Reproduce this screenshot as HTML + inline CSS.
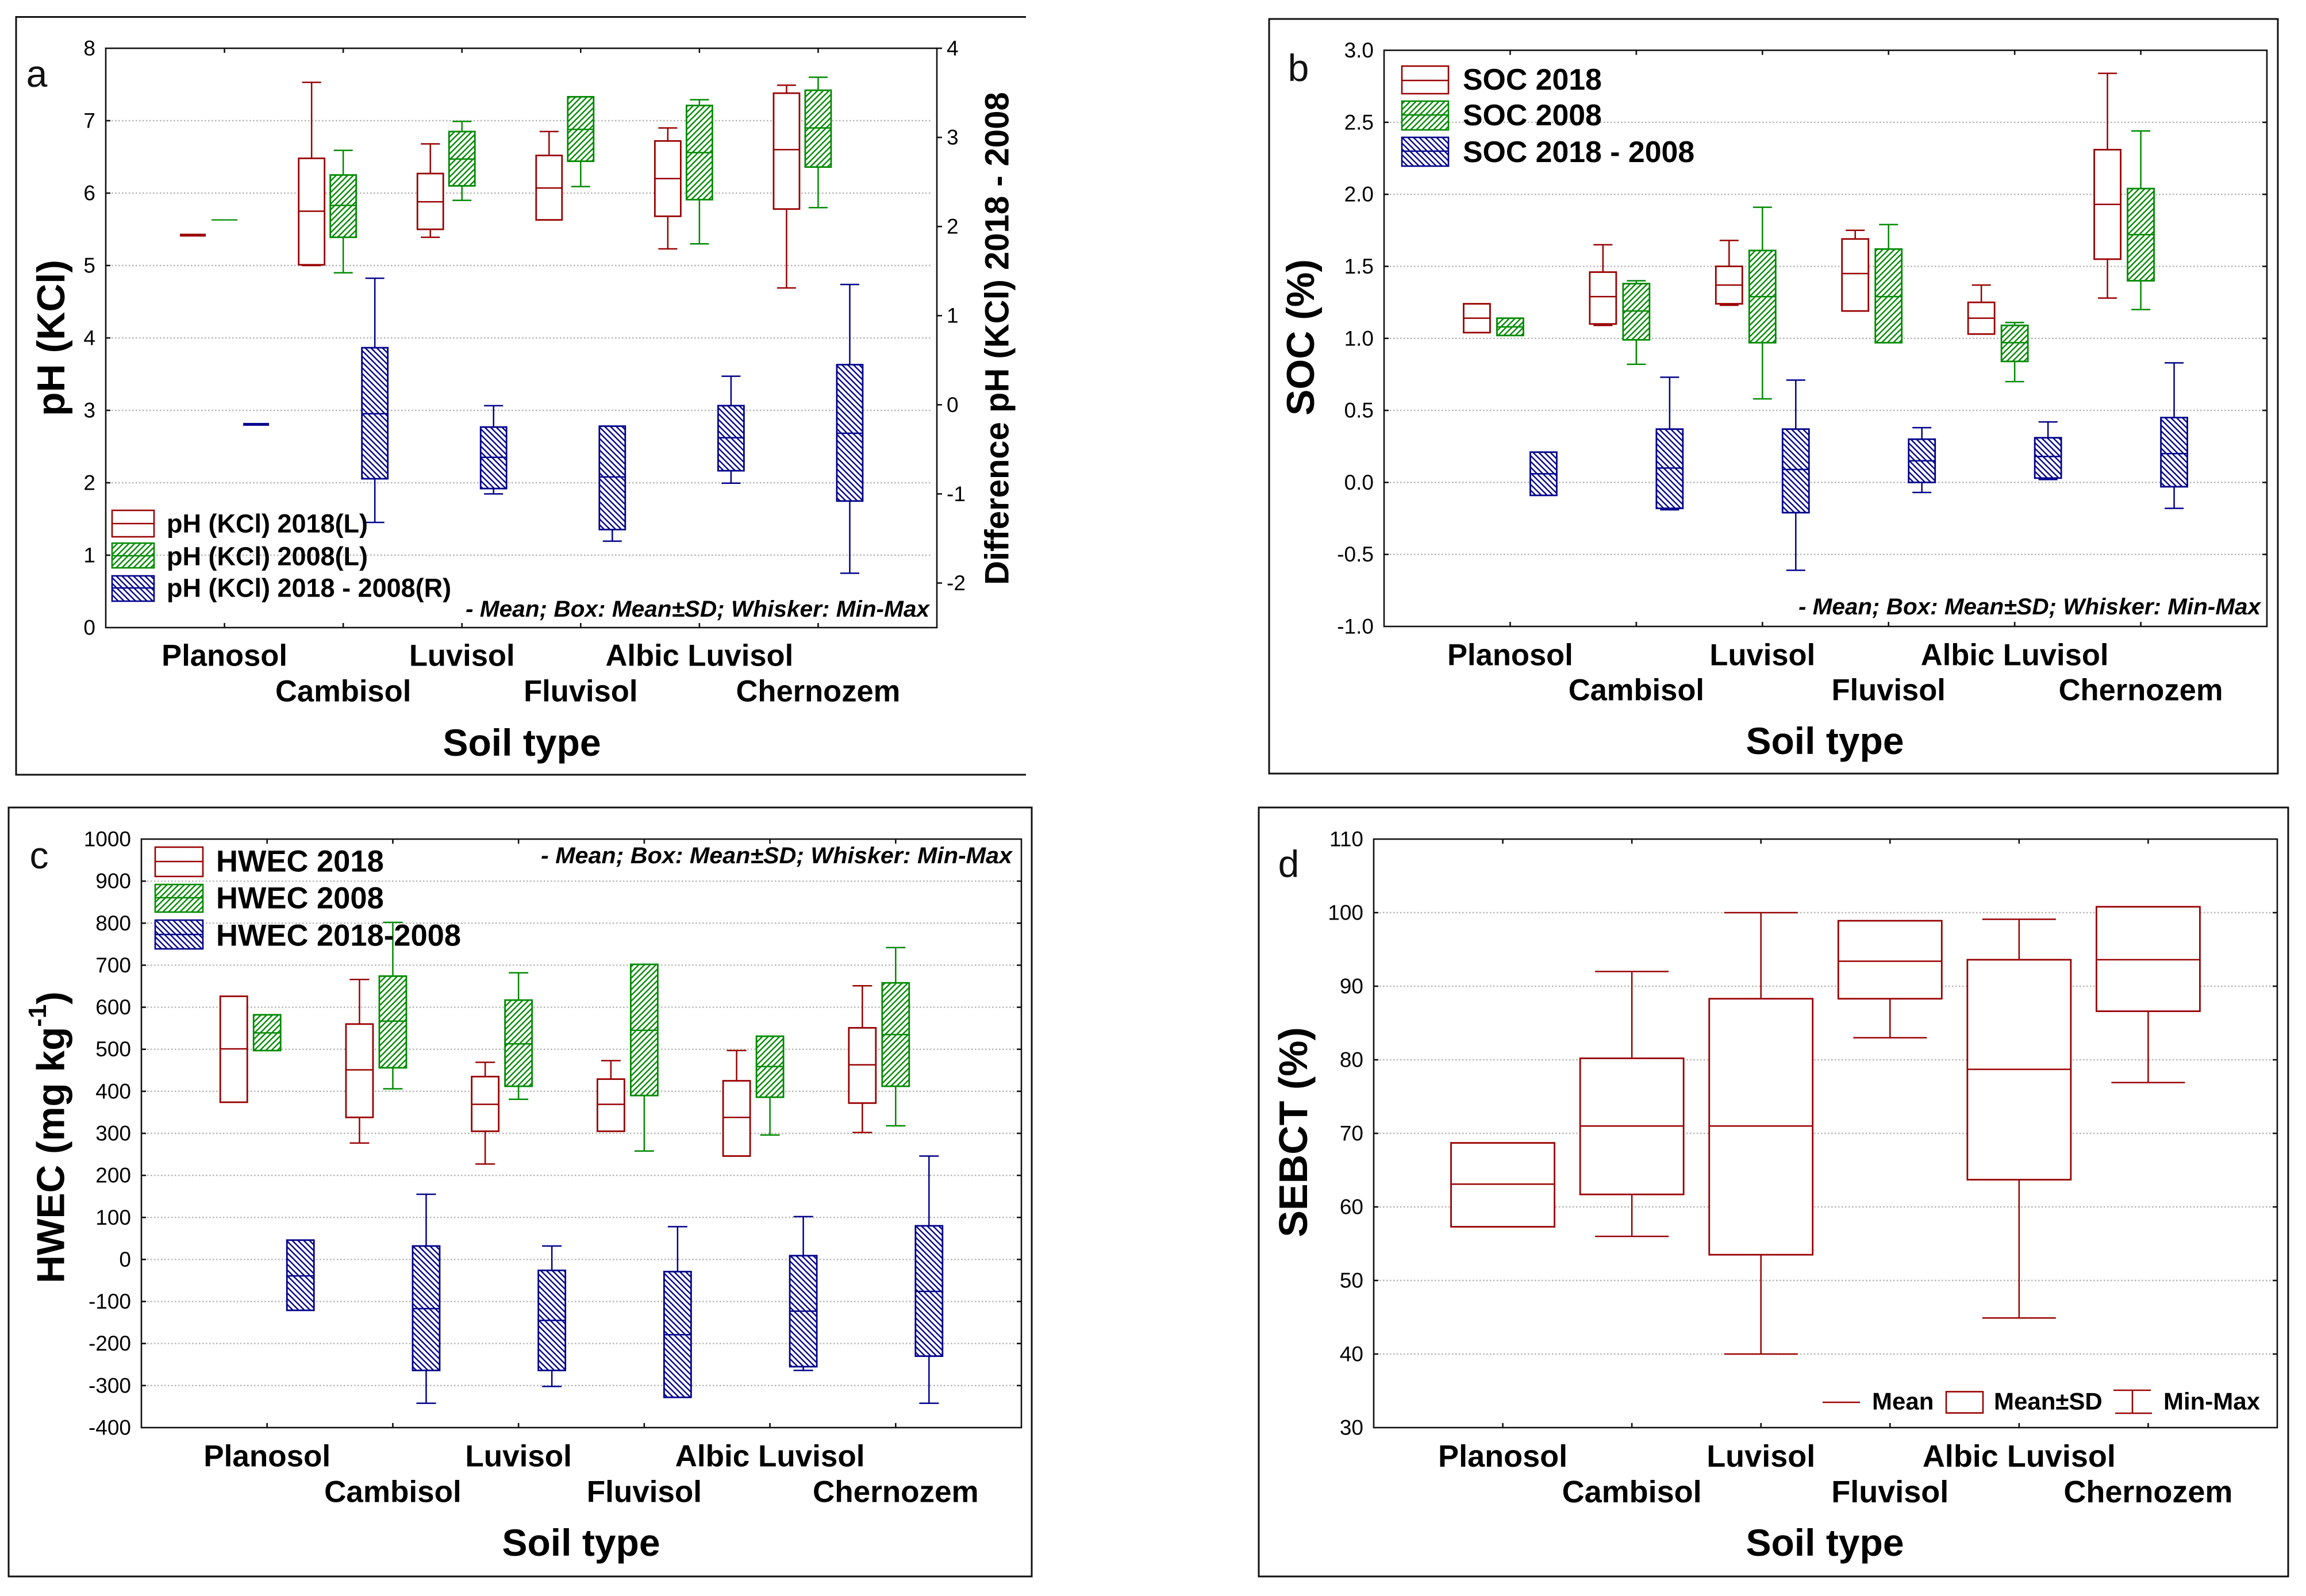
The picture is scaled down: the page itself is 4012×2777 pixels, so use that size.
<!DOCTYPE html>
<html lang="en">
<head>
<meta charset="utf-8">
<title>Soil type box plots</title>
<style>
html,body{margin:0;padding:0;background:#fff;}
svg{display:block;}
text{font-family:"Liberation Sans",sans-serif;fill:#000;}
.title{font-weight:bold;text-anchor:middle;dominant-baseline:central;}
.leg{font-weight:bold;dominant-baseline:central;}
.note{font-weight:bold;font-style:italic;font-size:40px;dominant-baseline:central;}
.letter{font-size:66px;text-anchor:middle;dominant-baseline:central;fill:#111;}
.frame{fill:none;stroke:#111;stroke-width:3;}
</style>
</head>
<body>
<svg id="figure" xmlns="http://www.w3.org/2000/svg" width="4012" height="2777" viewBox="0 0 4012 2777">
  <defs>
    <pattern id="hatch-green" patternUnits="userSpaceOnUse" width="10" height="10">
      <rect width="10" height="10" fill="#fff"/>
      <path d="M-2 2L2 -2M0 10L10 0M8 12L12 8" stroke="#008a00" stroke-width="2.4"/>
    </pattern>
    <pattern id="hatch-blue" patternUnits="userSpaceOnUse" width="10" height="10">
      <rect width="10" height="10" fill="#fff"/>
      <path d="M-2 8L2 12M0 0L10 10M8 -2L12 2" stroke="#00008b" stroke-width="2.4"/>
    </pattern>
  </defs>
  <rect width="4012" height="2777" fill="#fff"/>

  <!-- Panel frames -->
  <path class="frame" d="M1785 29.5H28V1348H1785"/>
  <rect class="frame" x="2208" y="33" width="1755" height="1313"/>
  <rect class="frame" x="15" y="1405" width="1780" height="1338"/>
  <rect class="frame" x="2190" y="1405" width="1791" height="1338"/>

  <g id="plots"></g>

  <!-- Panel a static text -->
  <text class="letter" x="64" y="128">a</text>
  <text class="title" font-size="68" transform="translate(89 588) rotate(-90)">pH (KCl)</text>
  <text class="title" font-size="58" transform="translate(1735 589) rotate(-90)">Difference pH (KCl) 2018 - 2008</text>
  <text class="title" font-size="66" x="908" y="1292">Soil type</text>
  <text class="note" x="810" y="1060" textLength="807" lengthAdjust="spacingAndGlyphs">- Mean; Box: Mean±SD; Whisker: Min-Max</text>
  <g>
    <g>
      <rect x="195" y="888" width="73" height="46" fill="#fff" stroke="#990000" stroke-width="2.6"/>
      <path d="M195 911H268" stroke="#990000" stroke-width="2.6"/>
      <text class="leg" font-size="45" x="290" y="911">pH (KCl) 2018(L)</text>
    </g>
    <g>
      <rect x="195" y="945" width="73" height="43" fill="url(#hatch-green)" stroke="#008a00" stroke-width="2.6"/>
      <path d="M195 967H268" stroke="#008a00" stroke-width="2.6"/>
      <text class="leg" font-size="45" x="290" y="968">pH (KCl) 2008(L)</text>
    </g>
    <g>
      <rect x="195" y="1002" width="73" height="44" fill="url(#hatch-blue)" stroke="#00008b" stroke-width="2.6"/>
      <path d="M195 1023H268" stroke="#00008b" stroke-width="2.6"/>
      <text class="leg" font-size="45" x="290" y="1023">pH (KCl) 2018 - 2008(R)</text>
    </g>
  </g>

  <!-- Panel b static text -->
  <text class="letter" x="2259" y="118">b</text>
  <text class="title" font-size="68" transform="translate(2263 587) rotate(-90)">SOC (%)</text>
  <text class="title" font-size="66" x="3175" y="1289">Soil type</text>
  <text class="note" x="3129" y="1056" textLength="804" lengthAdjust="spacingAndGlyphs">- Mean; Box: Mean±SD; Whisker: Min-Max</text>
  <g>
    <g>
      <rect x="2439" y="115" width="81" height="48" fill="#fff" stroke="#990000" stroke-width="2.6"/>
      <path d="M2439 140H2520" stroke="#990000" stroke-width="2.6"/>
      <text class="leg" font-size="51.8" x="2545" y="138">SOC 2018</text>
    </g>
    <g>
      <rect x="2439" y="176" width="81" height="50" fill="url(#hatch-green)" stroke="#008a00" stroke-width="2.6"/>
      <path d="M2439 200H2520" stroke="#008a00" stroke-width="2.6"/>
      <text class="leg" font-size="51.8" x="2545" y="200">SOC 2008</text>
    </g>
    <g>
      <rect x="2439" y="239" width="81" height="50" fill="url(#hatch-blue)" stroke="#00008b" stroke-width="2.6"/>
      <path d="M2439 263H2520" stroke="#00008b" stroke-width="2.6"/>
      <text class="leg" font-size="51.8" x="2545" y="264">SOC 2018 - 2008</text>
    </g>
  </g>

  <!-- Panel c static text -->
  <text class="letter" x="68" y="1488">c</text>
  <text class="title" font-size="67.5" transform="translate(89 1979) rotate(-90)">HWEC (mg kg<tspan font-size="44" dy="-24">-1</tspan><tspan dy="24">)</tspan></text>
  <text class="title" font-size="66" x="1011" y="2684">Soil type</text>
  <text class="note" x="941" y="1489" textLength="820" lengthAdjust="spacingAndGlyphs">- Mean; Box: Mean±SD; Whisker: Min-Max</text>
  <g>
    <g>
      <rect x="270" y="1474" width="83" height="51" fill="#fff" stroke="#990000" stroke-width="2.6"/>
      <path d="M270 1499H353" stroke="#990000" stroke-width="2.6"/>
      <text class="leg" font-size="52.5" x="376" y="1499">HWEC 2018</text>
    </g>
    <g>
      <rect x="270" y="1539" width="83" height="48" fill="url(#hatch-green)" stroke="#008a00" stroke-width="2.6"/>
      <path d="M270 1562H353" stroke="#008a00" stroke-width="2.6"/>
      <text class="leg" font-size="52.5" x="376" y="1563">HWEC 2008</text>
    </g>
    <g>
      <rect x="270" y="1601" width="83" height="50" fill="url(#hatch-blue)" stroke="#00008b" stroke-width="2.6"/>
      <path d="M270 1626H353" stroke="#00008b" stroke-width="2.6"/>
      <text class="leg" font-size="52.5" x="376" y="1628">HWEC 2018-2008</text>
    </g>
  </g>

  <!-- Panel d static text -->
  <text class="letter" x="2242" y="1503">d</text>
  <text class="title" font-size="70" transform="translate(2250 1970) rotate(-90)">SEBCT (%)</text>
  <text class="title" font-size="66" x="3175" y="2684">Soil type</text>
  <g>
    <g>
      <path d="M3171 2440H3236" stroke="#990000" stroke-width="2.6"/>
      <text class="leg" font-size="42" x="3257" y="2438">Mean</text>
    </g>
    <g>
      <rect x="3386" y="2421.5" width="64" height="37" fill="#fff" stroke="#990000" stroke-width="2.6"/>
      <text class="leg" font-size="42" x="3469" y="2438">Mean±SD</text>
    </g>
    <g>
      <path d="M3677 2419H3742M3710 2419V2459M3680 2459H3744" fill="none" stroke="#990000" stroke-width="2.6"/>
      <text class="leg" font-size="42" x="3764" y="2438">Min-Max</text>
    </g>
  </g>
</svg>

<script>
// Shared category labels
const categories = ['Planosol', 'Cambisol', 'Luvisol', 'Fluvisol', 'Albic Luvisol', 'Chernozem'];

// Each row is one soil type: [max, mean+SD, mean, mean-SD, min]
const phKcl2018 = [[5.42,5.42,5.42,5.42,5.42],[7.53,6.48,5.75,5.01,5.00],[6.68,6.27,5.88,5.50,5.39],[6.85,6.52,6.07,5.63,5.63],[6.90,6.72,6.20,5.68,5.23],[7.49,7.38,6.60,5.78,4.69]];
const phKcl2008 = [[5.63,5.63,5.63,5.63,5.63],[6.59,6.25,5.83,5.39,4.90],[6.99,6.85,6.47,6.10,5.90],[7.33,7.33,6.88,6.44,6.09],[7.29,7.21,6.56,5.91,5.30],[7.60,7.42,6.90,6.36,5.80]];
const phKclDiff = [[-0.22,-0.22,-0.22,-0.22,-0.22],[1.42,0.64,-0.10,-0.83,-1.32],[-0.01,-0.25,-0.59,-0.94,-1.00],[-0.24,-0.24,-0.81,-1.40,-1.53],[0.32,-0.01,-0.37,-0.74,-0.88],[1.35,0.45,-0.32,-1.08,-1.89]];
const phTicks = ['0','1','2','3','4','5','6','7','8'];
const phDiffTicks = ['-2','-1','0','1','2','3','4'];

const soc2018 = [[1.24,1.24,1.14,1.04,1.04],[1.65,1.46,1.29,1.10,1.09],[1.68,1.50,1.37,1.24,1.23],[1.75,1.69,1.45,1.19,1.19],[1.37,1.25,1.14,1.03,1.03],[2.84,2.31,1.93,1.55,1.28]];
const soc2008 = [[1.14,1.14,1.08,1.02,1.02],[1.40,1.38,1.19,0.99,0.82],[1.91,1.61,1.29,0.97,0.58],[1.79,1.62,1.29,0.97,0.97],[1.11,1.09,0.97,0.84,0.70],[2.44,2.04,1.72,1.40,1.20]];
const socDiff = [[0.21,0.21,0.06,-0.09,-0.09],[0.73,0.37,0.10,-0.18,-0.19],[0.71,0.37,0.09,-0.21,-0.61],[0.38,0.30,0.15,0.00,-0.07],[0.42,0.31,0.18,0.03,0.02],[0.83,0.45,0.20,-0.03,-0.18]];
const socTicks = ['-1.0','-0.5','0.0','0.5','1.0','1.5','2.0','2.5','3.0'];

const hwec2018 = [[626,626,501,374,374],[666,560,451,338,277],[469,435,369,305,227],[473,429,369,305,305],[497,425,338,246,246],[651,551,463,372,302]];
const hwec2008 = [[582,582,539,497,497],[802,674,567,456,406],[682,617,513,412,381],[702,702,545,390,258],[531,531,459,386,296],[742,658,535,412,318]];
const hwecDiff = [[46,46,-39,-121,-121],[155,32,-117,-264,-342],[32,-26,-145,-264,-302],[78,-29,-179,-328,-328],[102,9,-123,-255,-264],[246,80,-76,-230,-342]];
const hwecTicks = ['-400','-300','-200','-100','0','100','200','300','400','500','600','700','800','900','1000'];

const sebct = [[68.7,68.7,63.1,57.3,57.3],[92,80.2,71,61.7,56],[100,88.3,71,53.5,40],[98.9,98.9,93.4,88.3,83],[99.1,93.6,78.7,63.7,44.9],[100.8,100.8,93.6,86.6,76.9]];
const sebctTicks = ['30','40','50','60','70','80','90','100','110'];

const SVG_NS = 'http://www.w3.org/2000/svg';
const root = document.getElementById('plots');
const AXIS = '#111', GRID = '#b5b5b5';
const COLORS = {
  red: { stroke: '#990000', fill: '#fff', flat: 5 },
  green: { stroke: '#008a00', fill: 'url(#hatch-green)', flat: 2.2 },
  blue: { stroke: '#00008b', fill: 'url(#hatch-blue)', flat: 5 }
};

function make(parent, tag, attrs, content) {
  const node = document.createElementNS(SVG_NS, tag);
  for (const key in attrs) node.setAttribute(key, attrs[key]);
  if (content !== undefined) node.textContent = content;
  parent.appendChild(node);
  return node;
}

function linearScale(d0, d1, r0, r1) {
  return function (v) { return r0 + (v - d0) * (r1 - r0) / (d1 - d0); };
}

function drawPanel(cfg) {
  const g = make(root, 'g', {});
  
  
  const p = cfg.plot;
  const xStep = (p.right - p.left) / (categories.length + 1);
  const xPos = function (i) { return p.left + xStep * (i + 1); };
  const yLeft = linearScale(cfg.leftMin, cfg.leftMax, p.bottom, p.top);
  const yRight = cfg.rightTicks ? linearScale(cfg.rightMin, cfg.rightMax, p.bottom, p.top) : null;

  cfg.leftTicks.forEach(function (label) {
    const v = Number(label);
    const y = yLeft(v);
    if (v > cfg.leftMin && v < cfg.leftMax) {
      const grid = make(g, 'line', { x1: p.left + 10, x2: p.right - 10, y1: y, y2: y, stroke: GRID, 'stroke-width': 2.4, 'stroke-dasharray': '2.5 3.5' });
      
      
      const tickL = make(g, 'line', { x1: p.left, x2: p.left + 8, y1: y, y2: y, stroke: AXIS, 'stroke-width': 2.6 });
      
      
      if (!cfg.rightTicks) {
        const tickR = make(g, 'line', { x1: p.right - 8, x2: p.right, y1: y, y2: y, stroke: AXIS, 'stroke-width': 2.6 });
        
        
      }
    }
    const text = make(g, 'text', { x: p.left - 18, y: y, 'font-size': 37, 'text-anchor': 'end', 'dominant-baseline': 'central', fill: '#222' }, label);
    
    
  });

  if (cfg.rightTicks) {
    cfg.rightTicks.forEach(function (label) {
      const y = yRight(Number(label));
      const tick = make(g, 'line', { x1: p.right, x2: p.right + 9, y1: y, y2: y, stroke: AXIS, 'stroke-width': 2.6 });
      
      
      const text = make(g, 'text', { x: p.right + 17, y: y, 'font-size': 37, 'dominant-baseline': 'central', fill: '#222' }, label);
      
      
    });
  }

  const frame = make(g, 'rect', { x: p.left, y: p.top, width: p.right - p.left, height: p.bottom - p.top, fill: 'none', stroke: AXIS, 'stroke-width': 2.6 });
  
  

  categories.forEach(function (name, i) {
    const x = xPos(i);
    const tickB = make(g, 'line', { x1: x, x2: x, y1: p.bottom - 8, y2: p.bottom, stroke: AXIS, 'stroke-width': 2.6 });
    
    
    const tickT = make(g, 'line', { x1: x, x2: x, y1: p.top, y2: p.top + 8, stroke: AXIS, 'stroke-width': 2.6 });
    
    
    const text = make(g, 'text', { x: x, y: i % 2 === 0 ? cfg.labelY1 : cfg.labelY2, 'font-size': cfg.labelSize, 'font-weight': 'bold', 'text-anchor': 'middle', 'dominant-baseline': 'central' }, name);
    
    
  });

  cfg.series.forEach(function (s) {
    const color = COLORS[s.color];
    const y = s.axis === 'right' ? yRight : yLeft;
    s.values.forEach(function (row, i) {
      const cx = xPos(i) + s.offset;
      const half = cfg.boxWidth / 2;
      const capHalf = cfg.capWidth / 2;
      const yMax = y(row[0]), yTop = y(row[1]), yMean = y(row[2]), yBot = y(row[3]), yMin = y(row[4]);
      const flat = row[1] === row[3];
      const item = make(g, 'g', {});
      
      
      if (row[0] > row[1]) {
        const upper = make(item, 'path', { d: 'M' + (cx - capHalf) + ' ' + yMax + 'H' + (cx + capHalf) + 'M' + cx + ' ' + yMax + 'V' + yTop, fill: 'none', stroke: color.stroke, 'stroke-width': 2.5 });
        
        
      }
      if (row[4] < row[3]) {
        const lower = make(item, 'path', { d: 'M' + (cx - capHalf) + ' ' + yMin + 'H' + (cx + capHalf) + 'M' + cx + ' ' + yMin + 'V' + yBot, fill: 'none', stroke: color.stroke, 'stroke-width': 2.5 });
        
        
      }
      const box = make(item, 'rect', { x: cx - half, y: yTop, width: cfg.boxWidth, height: yBot - yTop, fill: color.fill, stroke: color.stroke, 'stroke-width': flat ? 0 : 2.8 });
      
      
      const mean = make(item, 'line', { x1: cx - half, x2: cx + half, y1: yMean, y2: yMean, stroke: color.stroke, 'stroke-width': flat ? color.flat : 2.5 });
      
      
    });
  });
}

drawPanel({
  id: 'panel-a', plot: { left: 184, right: 1630, top: 84, bottom: 1092 },
  leftTicks: phTicks, leftMin: 0, leftMax: 8,
  rightTicks: phDiffTicks, rightMin: -2.5, rightMax: 4,
  boxWidth: 45, capWidth: 33, labelY1: 1141, labelY2: 1203, labelSize: 52.5,
  series: [
    { name: 'ph-2018', color: 'red', axis: 'left', offset: -55, values: phKcl2018 },
    { name: 'ph-2008', color: 'green', axis: 'left', offset: 0, values: phKcl2008 },
    { name: 'ph-difference', color: 'blue', axis: 'right', offset: 55, values: phKclDiff }
  ]
});
drawPanel({
  id: 'panel-b', plot: { left: 2408, right: 3944, top: 87.5, bottom: 1090 },
  leftTicks: socTicks, leftMin: -1, leftMax: 3,
  boxWidth: 46, capWidth: 33, labelY1: 1140, labelY2: 1201, labelSize: 52.5,
  series: [
    { name: 'soc-2018', color: 'red', axis: 'left', offset: -58, values: soc2018 },
    { name: 'soc-2008', color: 'green', axis: 'left', offset: 0, values: soc2008 },
    { name: 'soc-difference', color: 'blue', axis: 'left', offset: 58, values: socDiff }
  ]
});
drawPanel({
  id: 'panel-c', plot: { left: 246, right: 1777, top: 1460, bottom: 2484 },
  leftTicks: hwecTicks, leftMin: -400, leftMax: 1000,
  boxWidth: 47, capWidth: 34, labelY1: 2534, labelY2: 2596, labelSize: 53,
  series: [
    { name: 'hwec-2018', color: 'red', axis: 'left', offset: -58, values: hwec2018 },
    { name: 'hwec-2008', color: 'green', axis: 'left', offset: 0, values: hwec2008 },
    { name: 'hwec-difference', color: 'blue', axis: 'left', offset: 58, values: hwecDiff }
  ]
});
drawPanel({
  id: 'panel-d', plot: { left: 2390, right: 3962, top: 1460, bottom: 2484 },
  leftTicks: sebctTicks, leftMin: 30, leftMax: 110,
  boxWidth: 180, capWidth: 128, labelY1: 2534, labelY2: 2596, labelSize: 54,
  series: [
    { name: 'sebct', color: 'red', axis: 'left', offset: 0, values: sebct }
  ]
});
</script>
</body>
</html>
